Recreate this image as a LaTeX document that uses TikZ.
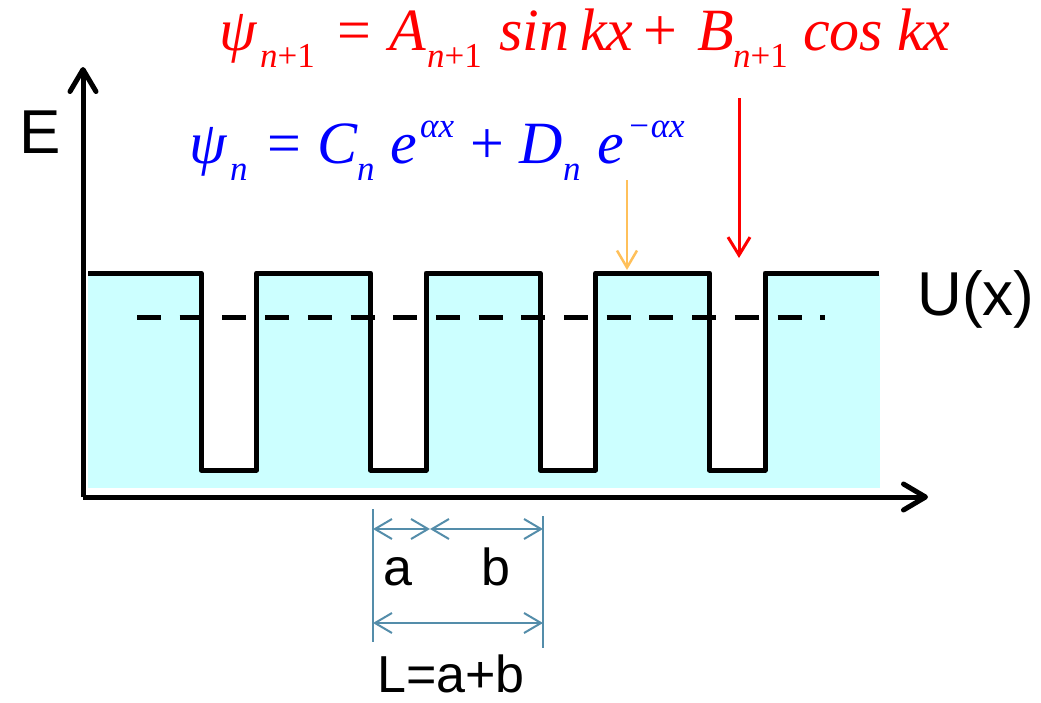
\documentclass[tikz,border=0pt]{standalone}
\usepackage{fontspec}
\setmainfont{Liberation Sans}
\newfontfamily\eqfont{Liberation Serif}
\usetikzlibrary{arrows.meta}
\definecolor{wellfill}{RGB}{204,255,255}
\definecolor{dimblue}{RGB}{84,141,170}
\definecolor{arrorange}{RGB}{255,192,90}
\newcommand\sbx[1]{\raisebox{-17pt}{\fontsize{35}{35}\selectfont #1}}
\newcommand\spx[1]{\raisebox{26pt}{\fontsize{35}{35}\selectfont #1}}
\newcommand\pc[2]{\makebox[#1pt][l]{#2}}
\begin{document}
\begin{tikzpicture}[x=1pt,y=-1pt,
  axisline/.style={line width=5pt,-{Straight Barb[length=22pt,width=26pt,line cap=round,line join=round]}},
  potline/.style={line width=5pt,line join=round},
  dashline/.style={line width=5pt,dash pattern=on 24pt off 18.7pt},
  dimline/.style={dimblue,line width=2pt},
  dimarrow/.style={dimblue,line width=2pt,{Straight Barb[length=17pt,width=20pt]}-{Straight Barb[length=17pt,width=20pt]}},
  lab/.style={inner sep=0pt,font=\fontsize{52}{52}\selectfont},
  biglab/.style={inner sep=0pt,font=\fontsize{62}{62}\selectfont},
  eq/.style={inner sep=0pt,font=\fontsize{60}{60}\selectfont\eqfont\itshape}
]
\useasboundingbox (0,0) rectangle (1041,702);
% fill
\fill[wellfill] (88,275) rectangle (880,488);
\foreach \xl/\xr in {201/256.5,370.5/426,540/595.5,709.5/765}
  \fill[white] (\xl,271) rectangle (\xr,470);
% potential
\draw[potline] (88,273) -- (201,273) -- (201,470) -- (256.5,470) -- (256.5,273)
  -- (370.5,273) -- (370.5,470) -- (426,470) -- (426,273)
  -- (540,273) -- (540,470) -- (595.5,470) -- (595.5,273)
  -- (709.5,273) -- (709.5,470) -- (765,470) -- (765,273) -- (879,273);
\draw[dashline] (137,317) -- (825,317);
% axes
\coordinate (O) at (83,497);
\coordinate (ytip) at (83,67);
\coordinate (xtip) at (928,497);
\draw[axisline] (O) -- (ytip);
\draw[axisline] (O) -- (xtip);
\node[biglab,anchor=base] (E) at (40,153) {E};
\node[biglab,anchor=base] (U) at (976,315) {U(x)};
% formulas
\node[eq,anchor=base west,text=red] (psi1) at (219,50)
  {\pc{41}{ψ}\pc{77}{\sbx{n\upshape+1}}\pc{52}{\upshape=}\pc{38}{A}\pc{72}{\sbx{n\upshape+1}}\pc{81}{sin}\pc{63}{kx}\pc{54}{\upshape+}\pc{36}{B}\pc{70}{\sbx{n\upshape+1}}\pc{94}{cos}kx};
\node[eq,anchor=base west,text=blue] (psi0) at (189,163)
  {\pc{41}{ψ}\pc{37}{\sbx{n}}\pc{50}{\upshape=}\pc{40}{C}\pc{33}{\sbx{n}}\pc{30}{e}\pc{50}{\spx{αx}}\pc{49}{\upshape+}\pc{44}{D}\pc{34}{\sbx{n}}\pc{30}{e}\spx{−αx}};
\coordinate (rs) at (739,98);
\coordinate (re) at (739,258);
\coordinate (os) at (627,180);
\coordinate (oe) at (627,270);
\draw[red,line width=3pt,-{Straight Barb[length=18pt,width=22pt]}] (rs) -- (re);
\draw[arrorange,line width=2.5pt,-{Straight Barb[length=17pt,width=20pt]}] (os) -- (oe);
% dimensions
\coordinate (d1t) at (373,509);
\coordinate (d1b) at (373,642);
\coordinate (d2t) at (543,516);
\coordinate (d2b) at (543,648);
\coordinate (a1) at (373,529);
\coordinate (a2) at (430,529);
\coordinate (a3) at (543,529);
\coordinate (l1) at (373,623);
\coordinate (l2) at (543,623);
\draw[dimline] (d1t) -- (d1b);
\draw[dimline] (d2t) -- (d2b);
\draw[dimarrow] (a1) -- (a2);
\draw[dimarrow] (a2) -- (a3);
\draw[dimarrow] (l1) -- (l2);
\node[lab,anchor=base] (la) at (398,585) {a};
\node[lab,anchor=base] (lb) at (496,585) {b};
\node[lab,anchor=base,text depth=0pt] (lL) at (451,692) {L=a+b};
\end{tikzpicture}
\end{document}
